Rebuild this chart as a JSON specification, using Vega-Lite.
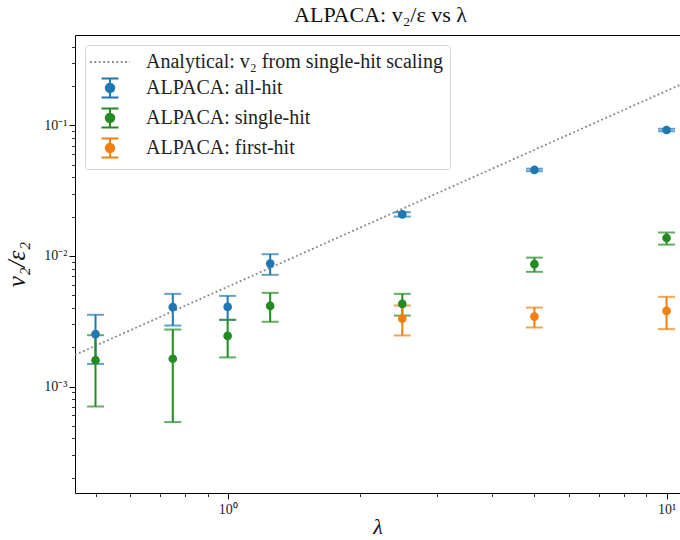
{
  "$schema": "https://vega.github.io/schema/vega-lite/v6.json",
  "width": 605,
  "height": 458,
  "autosize": {"type": "none"},
  "padding": {"left": 75, "top": 35, "right": 0, "bottom": 47},
  "background": "white",
  "config": {
    "font": "Liberation Serif",
    "view": {"stroke": null},
    "axis": {"grid": false, "domainColor": "#000", "domainWidth": 1, "tickColor": "#000", "labelColor": "#222", "labelFont": "Liberation Serif", "labelFontSize": 14, "titleFont": "Liberation Serif", "titleFontWeight": "normal", "titleColor": "#111"}
  },
  "title": {"text": "ALPACA: v₂/ε vs λ", "fontSize": 22, "fontWeight": "normal", "font": "Liberation Serif", "color": "#111", "offset": 8, "dx": 3},
  "datasets": {
    "pts": [
      {"lam": 0.5, "series": "ALPACA: all-hit", "v": 0.00252, "lo": 0.00149, "hi": 0.00354},
      {"lam": 0.75, "series": "ALPACA: all-hit", "v": 0.00405, "lo": 0.00293, "hi": 0.00512},
      {"lam": 1.0, "series": "ALPACA: all-hit", "v": 0.00407, "lo": 0.00324, "hi": 0.00494},
      {"lam": 1.25, "series": "ALPACA: all-hit", "v": 0.00873, "lo": 0.00716, "hi": 0.0103},
      {"lam": 2.5, "series": "ALPACA: all-hit", "v": 0.0208, "lo": 0.0200, "hi": 0.0216},
      {"lam": 5, "series": "ALPACA: all-hit", "v": 0.0455, "lo": 0.0445, "hi": 0.0465},
      {"lam": 10, "series": "ALPACA: all-hit", "v": 0.092, "lo": 0.090, "hi": 0.094},
      {"lam": 0.5, "series": "ALPACA: single-hit", "v": 0.00159, "lo": 0.000703, "hi": 0.00247},
      {"lam": 0.75, "series": "ALPACA: single-hit", "v": 0.00163, "lo": 0.000534, "hi": 0.00273},
      {"lam": 1.0, "series": "ALPACA: single-hit", "v": 0.00244, "lo": 0.00167, "hi": 0.00324},
      {"lam": 1.25, "series": "ALPACA: single-hit", "v": 0.00414, "lo": 0.00313, "hi": 0.00521},
      {"lam": 2.5, "series": "ALPACA: single-hit", "v": 0.00429, "lo": 0.00349, "hi": 0.00512},
      {"lam": 5, "series": "ALPACA: single-hit", "v": 0.00864, "lo": 0.00755, "hi": 0.0097},
      {"lam": 10, "series": "ALPACA: single-hit", "v": 0.0137, "lo": 0.0122, "hi": 0.0151},
      {"lam": 2.5, "series": "ALPACA: first-hit", "v": 0.00331, "lo": 0.00246, "hi": 0.00417},
      {"lam": 5, "series": "ALPACA: first-hit", "v": 0.00343, "lo": 0.00283, "hi": 0.00402},
      {"lam": 10, "series": "ALPACA: first-hit", "v": 0.00379, "lo": 0.00275, "hi": 0.00486}
    ],
    "line": [
      {"lam": 0.449, "series": "Analytical: v₂ from single-hit scaling", "v": 0.001745},
      {"lam": 10.73, "series": "Analytical: v₂ from single-hit scaling", "v": 0.2039}
    ]
  },
  "resolve": {"axis": {"x": "independent", "y": "independent"}},
  "layer": [
    {
      "data": {"name": "line"},
      "mark": {"type": "line", "strokeWidth": 1.8, "strokeDash": [1.8, 2.6], "clip": true, "color": "#858585"},
      "encoding": {
        "x": {"field": "lam", "type": "quantitative", "scale": {"type": "log", "domain": [0.449, 10.73], "nice": false},
              "axis": {"orient": "top", "labels": false, "ticks": false, "title": null, "domain": true}},
        "y": {"field": "v", "type": "quantitative", "scale": {"type": "log", "domain": [0.000153, 0.491], "nice": false},
              "axis": {"orient": "left", "title": "v₂/ε₂", "titleFontSize": 25, "titleFontStyle": "italic", "titlePadding": 14,
                       "values": [0.0002,0.0003,0.0004,0.0005,0.0006,0.0007,0.0008,0.0009,0.001,0.002,0.003,0.004,0.005,0.006,0.007,0.008,0.009,0.01,0.02,0.03,0.04,0.05,0.06,0.07,0.08,0.09,0.1,0.2,0.3,0.4],
                       "labelExpr": "datum.value == 0.001 ? '10⁻³' : datum.value == 0.01 ? '10⁻²' : datum.value == 0.1 ? '10⁻¹' : ''",
                       "tickSize": {"condition": {"test": "datum.value == 0.001 || datum.value == 0.01 || datum.value == 0.1", "value": 6}, "value": 3.5},
                       "tickWidth": {"condition": {"test": "datum.value == 0.001 || datum.value == 0.01 || datum.value == 0.1", "value": 1}, "value": 0.8},
                       "labelPadding": 2, "labelFlush": false, "labelOverlap": false}},
        "color": {"field": "series", "type": "nominal",
                  "scale": {"domain": ["Analytical: v₂ from single-hit scaling", "ALPACA: all-hit", "ALPACA: single-hit", "ALPACA: first-hit"],
                            "range": ["#858585", "#1f77b4", "#228b22", "#f27f0e"]},
                  "legend": {"orient": "none", "legendX": 10, "legendY": 10, "title": null,
                             "fillColor": "rgba(255,255,255,0.85)", "strokeColor": "#d6d6d6", "cornerRadius": 3, "padding": 7,
                             "labelFont": "Liberation Serif", "labelFontSize": 20, "labelColor": "#222", "labelLimit": 0,
                             "symbolSize": 400, "symbolOffset": 8, "labelOffset": 26, "rowPadding": 2,
                             "symbolStrokeWidth": 2, "symbolOpacity": 1,
                             "encode": {"symbols": {"update": {
                               "shape": {"signal": "datum.index === 0 ? 'M-2,0H2' : 'M-0.85,-0.95H0.85M0,-0.95V0.95M-0.85,0.95H0.85M0.42,0A0.42,0.42,0,1,1,-0.42,0A0.42,0.42,0,1,1,0.42,0Z'"},
                               "strokeDash": {"signal": "datum.index === 0 ? [1.8, 2.6] : [1, 0]"},
                               "strokeWidth": {"signal": "datum.index === 0 ? 1.8 : 2"},
                               "fill": {"scale": "color", "field": "value"},
                               "stroke": {"scale": "color", "field": "value"},
                               "opacity": {"value": 1}
                             }}}}}
      }
    },
    {
      "data": {"name": "pts"},
      "mark": {"type": "rule", "strokeWidth": 2},
      "encoding": {
        "x": {"field": "lam", "type": "quantitative", "scale": {"type": "log"},
              "axis": {"orient": "bottom", "title": "λ", "titleFontSize": 22, "titleFontStyle": "italic", "titlePadding": 0,
                       "values": [0.5,0.6,0.7,0.8,0.9,1,2,3,4,5,6,7,8,9,10],
                       "labelExpr": "datum.value == 1 ? '10⁰' : datum.value == 10 ? '10¹' : ''",
                       "tickSize": {"condition": {"test": "datum.value == 1 || datum.value == 10", "value": 6}, "value": 3.5},
                       "tickWidth": {"condition": {"test": "datum.value == 1 || datum.value == 10", "value": 1}, "value": 0.8},
                       "labelPadding": 3, "labelFlush": false, "labelOverlap": false}},
        "y": {"field": "lo", "type": "quantitative", "scale": {"type": "log"}, "axis": null},
        "y2": {"field": "hi"},
        "color": {"field": "series", "type": "nominal"}
      }
    },
    {
      "data": {"name": "pts"},
      "mark": {"type": "tick", "orient": "horizontal", "size": 17, "thickness": 2},
      "encoding": {
        "x": {"field": "lam", "type": "quantitative", "scale": {"type": "log"}, "axis": null},
        "y": {"field": "lo", "type": "quantitative", "scale": {"type": "log"}, "axis": null},
        "color": {"field": "series", "type": "nominal"}
      }
    },
    {
      "data": {"name": "pts"},
      "mark": {"type": "tick", "orient": "horizontal", "size": 17, "thickness": 2},
      "encoding": {
        "x": {"field": "lam", "type": "quantitative", "scale": {"type": "log"}, "axis": null},
        "y": {"field": "hi", "type": "quantitative", "scale": {"type": "log"}, "axis": null},
        "color": {"field": "series", "type": "nominal"}
      }
    },
    {
      "data": {"name": "pts"},
      "mark": {"type": "point", "filled": true, "size": 75, "opacity": 1},
      "encoding": {
        "x": {"field": "lam", "type": "quantitative", "scale": {"type": "log"}, "axis": null},
        "y": {"field": "v", "type": "quantitative", "scale": {"type": "log"}, "axis": null},
        "color": {"field": "series", "type": "nominal"}
      }
    }
  ]
}
